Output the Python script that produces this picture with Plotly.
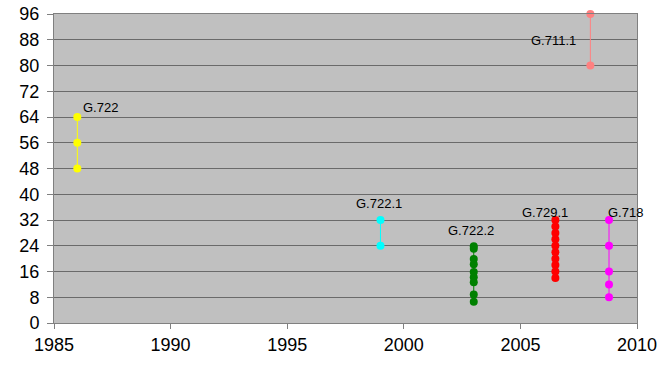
import plotly.graph_objects as go

# Data
codec_names = ["G.722", "G.722.1", "G.722.2", "G.729.1", "G.718", "G.711.1"]
codec_years = [1986, 1999, 2003, 2006.5, 2008.8, 2008]
codec_rates = [
    [48, 56, 64],
    [24, 32],
    [6.6, 8.85, 12.65, 14.25, 15.85, 18.25, 19.85, 23.05, 23.85],
    [14, 16, 18, 20, 22, 24, 26, 28, 30, 32],
    [8, 12, 16, 24, 32],
    [80, 96],
]
codec_colors = ["#FFFF00", "#00FFFF", "#008000", "#FF0000", "#FF00FF", "#FF8080"]
label_x = [1987.0, 1998.95, 2002.9, 2006.05, 2009.5, 2006.4]
label_y = [66.8, 37.2, 28.7, 34.4, 34.4, 87.7]

x_ticks = [1985, 1990, 1995, 2000, 2005, 2010]
y_ticks = list(range(0, 97, 8))

fig = go.Figure()
for name, yr, rates, col in zip(codec_names, codec_years, codec_rates, codec_colors):
    fig.add_trace(go.Scatter(
        x=[yr] * len(rates), y=rates, mode="lines+markers", name=name,
        line=dict(color=col, width=1),
        marker=dict(color=col, size=8),
        showlegend=False, cliponaxis=False,
    ))

for name, lx, ly in zip(codec_names, label_x, label_y):
    fig.add_annotation(x=lx, y=ly, text=name, showarrow=False,
                       font=dict(family="Liberation Sans", size=13, color="black"))

fig.update_layout(
    width=665, height=368,
    margin=dict(l=54, r=28, t=14, b=45, autoexpand=False),
    paper_bgcolor="white", plot_bgcolor="#C0C0C0",
    font=dict(family="Liberation Sans", size=18, color="black"),
    xaxis=dict(range=[1985, 2010], tickvals=x_ticks, showgrid=False, zeroline=False,
               showline=True, linecolor="#808080", mirror=True, ticks="outside",
               ticklen=5, tickcolor="#808080", automargin=False),
    yaxis=dict(range=[0, 96], tickvals=y_ticks, showgrid=True, gridcolor="#6A6A6A",
               gridwidth=1, zeroline=False, showline=True, linecolor="#808080",
               mirror=True, ticks="outside", ticklen=6, tickcolor="#808080",
               ticklabelstandoff=4, automargin=False),
)

fig.write_html("out.html")
